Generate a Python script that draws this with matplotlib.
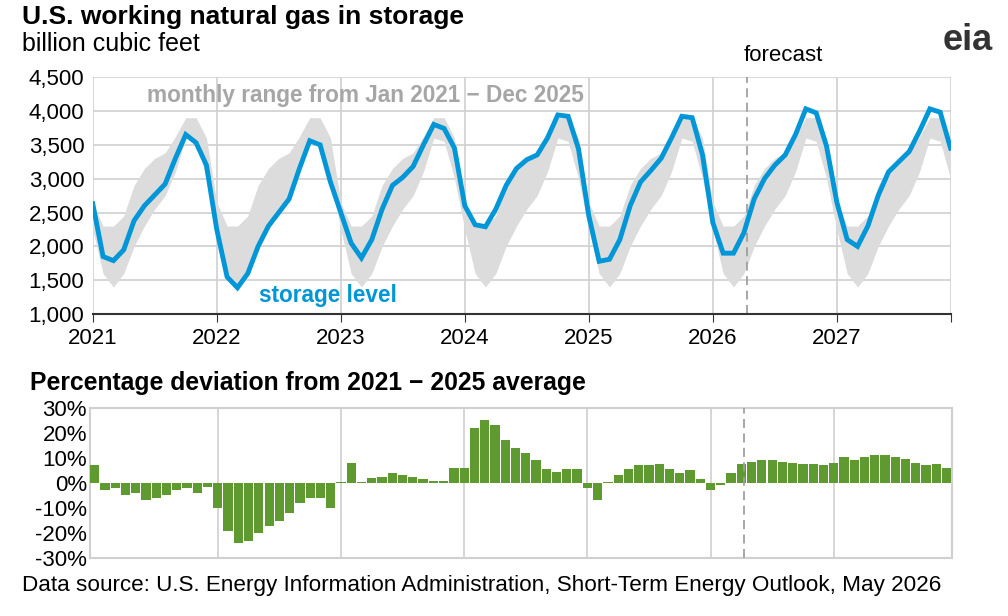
import matplotlib.pyplot as plt
import numpy as np

plt.rcParams['font.family'] = ['Liberation Sans', 'DejaVu Sans']

years = list(range(2021, 2028))
storage = [2630, 1850, 1790, 1950, 2380, 2600, 2760, 2920, 3300, 3650, 3530, 3200,
           2250, 1550, 1390, 1600, 2000, 2300, 2500, 2700, 3150, 3560, 3500, 2950,
           2500, 2050, 1830, 2100, 2550, 2900, 3020, 3180, 3500, 3800, 3740, 3450,
           2600, 2320, 2290, 2550, 2900, 3150, 3280, 3350, 3600, 3940, 3920, 3440,
           2450, 1780, 1810, 2100, 2600, 2950, 3120, 3300, 3600, 3920, 3900, 3350,
           2350, 1900, 1900, 2200, 2700, 3000, 3200, 3350, 3650, 4030, 3970, 3480,
           2650, 2100, 2000, 2300, 2750, 3100, 3250, 3400, 3700, 4030, 3980, 3450]
range_min = [2250, 1600, 1400, 1600, 2000, 2300, 2550, 2750, 3100, 3600, 3550, 3000]
range_max = [2650, 2300, 2300, 2450, 2900, 3150, 3300, 3380, 3620, 3900, 3900, 3600]
deviation = [7, -3, -2, -5, -4, -7, -6, -5, -3, -2, -4, -1.5,
             -10, -19, -24, -23, -20, -17, -15, -12, -8, -6, -6, -10,
             0.3, 8, 0.5, 2, 2.5, 4, 3, 2.5, 1.5, 0.8, 0.8, 6,
             6, 22, 25, 23, 17, 14, 12, 9, 5.5, 4.5, 5.5, 5.5,
             -2, -7, 0.3, 3, 5.5, 7, 7, 7.5, 5.5, 4, 5, 1.5,
             -3, -1, 4, 7.5, 8.5, 9, 9, 8.5, 8, 7.5, 7.5, 7,
             8, 10.5, 9, 10.5, 11, 11, 10.5, 9.5, 8, 7, 7.5, 6]
forecast_start = 2026 + 3.3 / 12

x = 2021 + np.arange(len(storage)) / 12
lo = np.tile(range_min, len(years))
hi = np.tile(range_max, len(years))
x_end = x[-1]

fig = plt.figure(figsize=(10.08, 6.16), dpi=100)
ax = fig.add_axes([0.092, 0.49, 0.851, 0.385])
ax.fill_between(x, lo, hi, color='#dcdcdc', lw=0, zorder=1)
ax.plot(x, storage, color='#0096d7', lw=3.5, zorder=3, solid_joinstyle='miter')
ax.set_xlim(2021, x_end)
ax.set_ylim(1000, 4500)
ax.set_yticks(range(1000, 4501, 500))
ax.set_yticklabels([f'{v:,}' for v in range(1000, 4501, 500)], fontsize=16)
ax.set_xticks(years + [x_end])
ax.set_xticklabels([str(y) for y in years] + [''], fontsize=16, ha='center')
ax.grid(True, color='#d0d0d0', lw=1.2, zorder=0)
ax.set_axisbelow(True)
for s in ['top', 'right', 'left']:
    ax.spines[s].set_visible(False)
ax.spines['bottom'].set_color('#333333')
ax.spines['bottom'].set_linewidth(1.5)
ax.tick_params(axis='y', length=0, pad=6)
ax.tick_params(axis='x', length=6, color='#333333', pad=4)
ax.axvline(forecast_start, color='#a0a0a0', ls=(0, (5, 3)), lw=1.3, zorder=2)
ax.text(2023.2, 4220, 'monthly range from Jan 2021 \u2212 Dec 2025', color='#a6a6a6',
        fontsize=16.3, fontweight='bold', ha='center', va='center')
ax.text(2022.9, 1270, 'storage level', color='#0096d7', fontsize=16.3,
        fontweight='bold', ha='center', va='center')
ax.text(forecast_start - 0.03, 4810, 'forecast', fontsize=16, ha='left', va='center')

ax2 = fig.add_axes([0.089, 0.094, 0.855, 0.244])
ax2.bar(x, deviation, width=0.075, color='#5f9a30', zorder=3)
ax2.set_xlim(2021 - 0.04, x_end + 0.04)
ax2.set_ylim(-30, 30)
ax2.set_yticks(range(-30, 31, 10))
ax2.set_yticklabels([f'{v}%' for v in range(-30, 31, 10)], fontsize=16)
ax2.set_xticks(years[1:])
ax2.set_xticklabels([])
ax2.tick_params(length=0, pad=2)
ax2.grid(True, axis='x', color='#d0d0d0', lw=1.2, zorder=0)
ax2.set_axisbelow(True)
for s in ax2.spines.values():
    s.set_color('#d0d0d0')
    s.set_linewidth(1.5)
ax2.axvline(forecast_start, color='#a0a0a0', ls=(0, (5, 3)), lw=1.3, zorder=4)

fig.text(0.022, 0.973, 'U.S. working natural gas in storage', fontsize=19, fontweight='bold', va='center')
fig.text(0.022, 0.928, 'billion cubic feet', fontsize=18, va='center')
fig.text(0.03, 0.378, 'Percentage deviation from 2021 \u2212 2025 average', fontsize=17.8,
         fontweight='bold', va='center')
fig.text(0.022, 0.05, 'Data source: U.S. Energy Information Administration, Short-Term Energy Outlook, May 2026',
         fontsize=16.2, va='center')
fig.text(0.985, 0.935, 'eia', fontsize=26, fontweight='bold', color='#333333', ha='right', va='center')

fig.savefig('out.png', dpi=100)
